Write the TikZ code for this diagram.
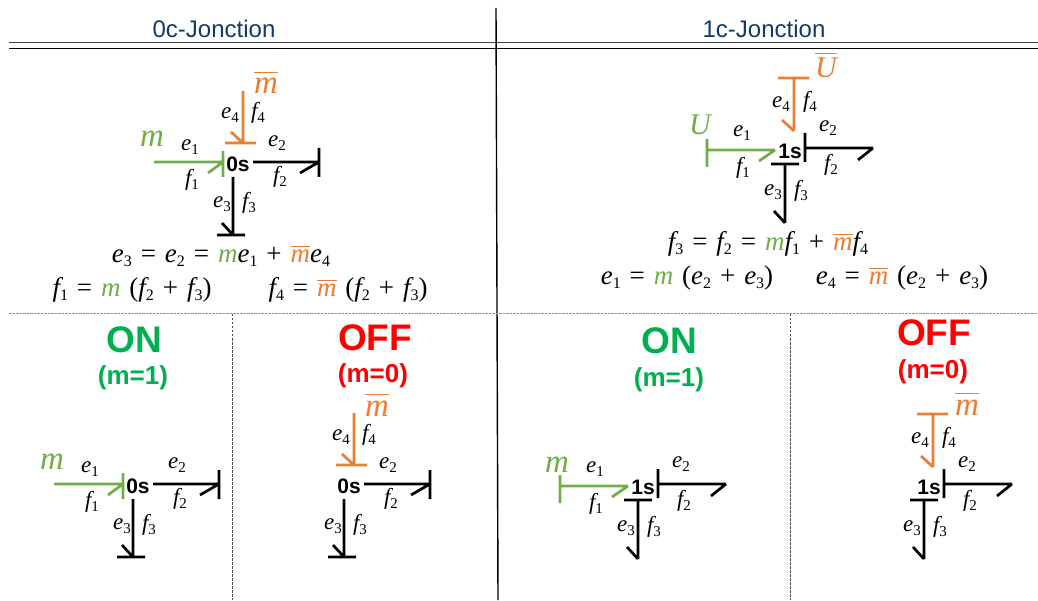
\documentclass[tikz,border=0pt]{standalone}
\usepackage{fix-cm}
\usepackage{fontspec}
\setmainfont{Liberation Sans}
\newfontfamily\tms{Liberation Serif}
\definecolor{gbond}{HTML}{70AD47}
\definecolor{obond}{HTML}{ED7D31}
\definecolor{head}{HTML}{0F3A6B}
\definecolor{on}{HTML}{00B050}
\newcommand\fs[1]{\fontsize{#1}{#1}\selectfont}
\newcommand\lab[2]{{\tms\fs{23}\itshape #1}\raisebox{-3.5pt}{\tms\fs{15}#2}}
% equation parts
\newcommand\qv[2]{{\itshape #1}\raisebox{-4pt}{\fs{16}#2}}
\newcommand\gm{\textcolor{gbond}{\itshape m}}
\newcommand\om{\textcolor{obond}{\barred{0.56em}{m}}}
\newcommand\barred[2]{\ensuremath{\overline{\mbox{\rule{0pt}{#1}\itshape #2}}}}
\newcommand\gap{\hspace{0.33em}}
\newcommand\eqfont{\tms\fs{27}\spaceskip 0.33em\relax}
\tikzset{
 bond/.style={line width=2.7pt},
 gb/.style={bond,draw=gbond},
 ob/.style={bond,draw=obond},
 kb/.style={bond,draw=black},
 txt/.style={inner sep=0pt,anchor=center},
 jn/.style={txt,font=\fs{21}\bfseries},
 bl/.style={txt},
 hd/.style={txt,text=head,font=\fs{24}},
 eq/.style={txt,font=\eqfont},
 sw/.style={txt,font=\fs{37}\bfseries},
 cond/.style={txt,font=\fs{26}\bfseries},
 big/.style={inner sep=0pt,anchor=base,font=\tms\fs{33}},
}
% 0-junction, drawn in the coordinates of the top-left diagram
\newcommand\ZeroCore[1]{%
 \node[jn] (#1j) at (238,164) {0s};
 \coordinate (#1r0) at (253,162); \coordinate (#1r1) at (319,162); \coordinate (#1rh) at (300,173);
 \coordinate (#1ra) at (319,148); \coordinate (#1rb) at (319,177);
 \draw[kb] (#1r0) -- (#1r1) (#1rh) -- (#1r1) (#1ra) -- (#1rb);
 \coordinate (#1d0) at (233,177); \coordinate (#1d1) at (233,235); \coordinate (#1dh) at (222,223);
 \coordinate (#1da) at (217,235); \coordinate (#1db) at (245,235);
 \draw[kb] (#1d0) -- (#1d1) (#1dh) -- (#1d1) (#1da) -- (#1db);
 \node[bl] (#1e2) at (277,143) {\lab{e}{2}};
 \node[bl] (#1f2) at (280,177) {\lab{f}{2}};
 \node[bl] (#1e3) at (222,204) {\lab{e}{3}};
 \node[bl] (#1f3) at (249,203) {\lab{f}{3}};
}
\newcommand\ZeroGreen[1]{%
 \coordinate (#1g0) at (154,162); \coordinate (#1g1) at (223,162); \coordinate (#1gh) at (208,173);
 \coordinate (#1ga) at (223,151); \coordinate (#1gb) at (223,177);
 \draw[gb] (#1g0) -- (#1g1) (#1gh) -- (#1g1) (#1ga) -- (#1gb);
 \node[bl] (#1e1) at (190,147) {\lab{e}{1}};
 \node[bl] (#1f1) at (192,180) {\lab{f}{1}};
 \node[big,text=gbond] (#1m) at (152,147) {\itshape m};
}
\newcommand\ZeroOrange[1]{%
 \coordinate (#1o0) at (243,91); \coordinate (#1o1) at (243,143); \coordinate (#1oh) at (231,132);
 \coordinate (#1oa) at (225,143); \coordinate (#1ob) at (256,143);
 \draw[ob] (#1o0) -- (#1o1) (#1oh) -- (#1o1) (#1oa) -- (#1ob);
 \node[bl] (#1e4) at (230,115) {\lab{e}{4}};
 \node[bl] (#1f4) at (258,113) {\lab{f}{4}};
 \node[big,text=obond] (#1n) at (266,94) {\barred{0.62em}{m}};
}
% 1-junction, drawn in the coordinates of the top-right diagram
\newcommand\OneCore[1]{%
 \node[jn] (#1j) at (790,151) {1s};
 \coordinate (#1r0) at (805,148); \coordinate (#1r1) at (873,148); \coordinate (#1rh) at (858,160);
 \coordinate (#1ra) at (805,133); \coordinate (#1rb) at (805,162);
 \draw[kb] (#1r0) -- (#1r1) (#1rh) -- (#1r1) (#1ra) -- (#1rb);
 \coordinate (#1d0) at (785,164); \coordinate (#1d1) at (785,223); \coordinate (#1dh) at (774,211);
 \coordinate (#1da) at (771,164); \coordinate (#1db) at (799,164);
 \draw[kb] (#1d0) -- (#1d1) (#1dh) -- (#1d1) (#1da) -- (#1db);
 \node[bl] (#1e2) at (828,128) {\lab{e}{2}};
 \node[bl] (#1f2) at (831,165) {\lab{f}{2}};
 \node[bl] (#1e3) at (773,192) {\lab{e}{3}};
 \node[bl] (#1f3) at (801,191) {\lab{f}{3}};
}
\newcommand\OneGreen[1]{%
 \coordinate (#1g0) at (707,150); \coordinate (#1g1) at (775,150); \coordinate (#1gh) at (759,161);
 \coordinate (#1ga) at (707,139); \coordinate (#1gb) at (707,167);
 \draw[gb] (#1g0) -- (#1g1) (#1gh) -- (#1g1) (#1ga) -- (#1gb);
 \node[bl] (#1e1) at (742,133) {\lab{e}{1}};
 \node[bl] (#1f1) at (743,168) {\lab{f}{1}};
}
\newcommand\OneOrange[1]{%
 \coordinate (#1o0) at (794,78); \coordinate (#1o1) at (794,131); \coordinate (#1oh) at (782,120);
 \coordinate (#1oa) at (778,78); \coordinate (#1ob) at (809,78);
 \draw[ob] (#1o0) -- (#1o1) (#1oh) -- (#1o1) (#1oa) -- (#1ob);
 \node[bl] (#1e4) at (781,104) {\lab{e}{4}};
 \node[bl] (#1f4) at (810,102) {\lab{f}{4}};
}
\begin{document}
\begin{tikzpicture}[x=1pt,y=-1pt]
\useasboundingbox (0,0) rectangle (1038,601);
% table rules
\coordinate (hl1) at (9,42.5); \coordinate (hr1) at (1038,42.5);
\coordinate (hl2) at (9,48.5); \coordinate (hr2) at (1038,48.5);
\coordinate (vt) at (496,8); \coordinate (vb) at (498,600);
\coordinate (gl) at (9,313); \coordinate (gr) at (1038,313);
\coordinate (d1t) at (232,314); \coordinate (d1b) at (232,600);
\coordinate (d2t) at (790,314); \coordinate (d2b) at (790,600);
\draw[black!75,line width=1.1pt] (hl1) -- (hr1);
\draw[black,line width=1pt] (hl2) -- (hr2);
\draw[black,line width=1.4pt] (vt) -- (vb);
\draw[gbond,line width=0.8pt,dash pattern=on 2.5pt off 1pt] (gl) -- (gr);
\draw[black!70,line width=0.9pt,dash pattern=on 2.5pt off 1.5pt] (d1t) -- (d1b);
\draw[black!70,line width=0.9pt,dash pattern=on 2.5pt off 1.5pt] (d2t) -- (d2b);
% headers
\node[hd] (h0) at (214,29) {0c-Jonction};
\node[hd] (h1) at (764,29) {1c-Jonction};
% top diagrams
\ZeroCore{a}\ZeroGreen{a}\ZeroOrange{a}
\OneCore{b}\OneGreen{b}\OneOrange{b}
\node[big,text=gbond,font=\tms\fs{30}\itshape] (bU) at (700,135) {U};
\node[big,text=obond,font=\tms\fs{30}] (bV) at (826,78) {\barred{0.78em}{U}};
% equations
\node[eq] (q1) at (221,256) {\qv{e}{3} = \qv{e}{2} = \gm\qv{e}{1} + \om\qv{e}{4}};
\node[eq] (q2) at (132,290) {\qv{f}{1} = \gm\gap(\qv{f}{2} + \qv{f}{3})};
\node[eq] (q3) at (348,290) {\qv{f}{4} = \om\gap(\qv{f}{2} + \qv{f}{3})};
\node[eq] (q4) at (768,244) {\qv{f}{3} = \qv{f}{2} = \gm\qv{f}{1} + \om\qv{f}{4}};
\node[eq] (q5) at (687,278) {\qv{e}{1} = \gm\gap(\qv{e}{2} + \qv{e}{3})};
\node[eq] (q6) at (902,278) {\qv{e}{4} = \om\gap(\qv{e}{2} + \qv{e}{3})};
% state captions
\node[sw,text=on] (s1) at (134,340) {ON};
\node[cond,text=on] (c1) at (133,378) {(m=1)};
\node[sw,text=red] (s2) at (375,338) {OFF};
\node[cond,text=red] (c2) at (373,376) {(m=0)};
\node[sw,text=on] (s3) at (669,341) {ON};
\node[cond,text=on] (c3) at (669,380) {(m=1)};
\node[sw,text=red] (s4) at (934,333) {OFF};
\node[cond,text=red] (c4) at (933,372) {(m=0)};
% bottom diagrams
\begin{scope}[shift={(-100,322)}] \ZeroCore{c}\ZeroGreen{c} \end{scope}
\begin{scope}[shift={(111,322)}] \ZeroCore{d}\ZeroOrange{d} \end{scope}
\begin{scope}[shift={(-147,336)}] \OneCore{e}\OneGreen{e} \end{scope}
\begin{scope}[shift={(139,336)}] \OneCore{f}\OneOrange{f} \end{scope}
\node[big,text=gbond] (em) at (557,472) {\itshape m};
\node[big,text=obond] (fn) at (967,415) {\barred{0.62em}{m}};
\end{tikzpicture}
\end{document}
